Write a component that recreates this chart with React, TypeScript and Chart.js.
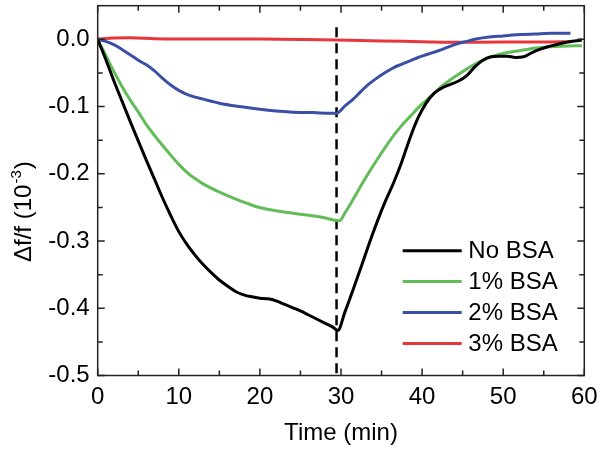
import React, { useEffect, useRef } from 'react';
import { Chart, registerables } from 'chart.js';
Chart.register(...registerables);

const seriesLabels = ['No BSA', '1% BSA', '2% BSA', '3% BSA'];
const seriesColors = ['#000000', '#62BC58', '#3B4FA6', '#E8373B'];

const noBsaTime = [0, 1, 2, 3, 4, 5, 6, 7, 8, 9, 10, 11, 12, 13, 14, 15, 16, 17, 18, 19, 20, 21, 22, 23, 24, 25, 26, 27, 28, 29, 29.6, 30.5, 31.5, 32.5, 33.5, 34.5, 35.5, 36.5, 37.5, 38.5, 39.5, 40.5, 41.5, 42.5, 43.5, 44.5, 45.5, 46.5, 47.5, 48.5, 49.5, 50.5, 51.5, 52.5, 53.5, 54.5, 55.5, 56.5, 57.5, 58.5, 59.7];
const noBsaValue = [0, -0.030, -0.062, -0.092, -0.122, -0.151, -0.180, -0.208, -0.236, -0.262, -0.286, -0.305, -0.321, -0.335, -0.347, -0.358, -0.367, -0.375, -0.380, -0.383, -0.385, -0.386, -0.389, -0.394, -0.399, -0.404, -0.410, -0.416, -0.422, -0.428, -0.433, -0.405, -0.372, -0.338, -0.303, -0.270, -0.240, -0.213, -0.182, -0.147, -0.117, -0.095, -0.080, -0.072, -0.067, -0.062, -0.054, -0.041, -0.031, -0.026, -0.025, -0.025, -0.027, -0.026, -0.020, -0.015, -0.011, -0.008, -0.005, -0.003, -0.001];

const bsa1Time = [0, 1, 2, 3, 4, 5, 6, 7, 8.5, 10, 11.4, 12, 13, 15.5, 17.5, 19.6, 21.5, 23.7, 25.5, 27.8, 29.8, 30.5, 31.5, 32.5, 33.5, 34.5, 35.5, 36.5, 37.5, 38.5, 39.5, 40.5, 41.5, 42.5, 43.5, 44.5, 45.5, 46.5, 47.5, 48.5, 50, 52, 54, 56, 58, 59.7];
const bsa1Value = [0, -0.024, -0.048, -0.070, -0.090, -0.108, -0.127, -0.143, -0.165, -0.186, -0.202, -0.207, -0.215, -0.230, -0.240, -0.249, -0.254, -0.258, -0.261, -0.265, -0.270, -0.258, -0.238, -0.217, -0.197, -0.178, -0.160, -0.143, -0.128, -0.115, -0.102, -0.091, -0.080, -0.069, -0.060, -0.052, -0.044, -0.037, -0.031, -0.026, -0.021, -0.017, -0.013, -0.011, -0.010, -0.0095];

const bsa2Time = [0, 1, 2, 3, 4, 5, 6, 7, 8, 9, 10, 11, 12, 13, 14, 15, 17.5, 20, 23.7, 26.5, 29.4, 30.5, 31.5, 32.5, 33.5, 34.5, 35.5, 36.5, 37.5, 38.5, 39.5, 40.5, 41.5, 42.5, 43.5, 44.5, 45.5, 46.5, 48, 50, 52, 54, 56, 58.3];
const bsa2Value = [0, -0.003, -0.008, -0.015, -0.023, -0.031, -0.038, -0.047, -0.058, -0.068, -0.076, -0.082, -0.086, -0.089, -0.092, -0.095, -0.100, -0.104, -0.108, -0.109, -0.110, -0.099, -0.089, -0.077, -0.066, -0.057, -0.049, -0.042, -0.037, -0.032, -0.027, -0.023, -0.019, -0.015, -0.010, -0.006, -0.003, 0.000, 0.003, 0.005, 0.007, 0.008, 0.009, 0.009];

const bsa3Time = [0, 2, 4, 7, 10, 15, 20, 25, 29.4, 35, 40, 44, 50, 55, 58.3];
const bsa3Value = [0, 0.002, 0.0025, 0.001, 0.0005, 0.0005, 0.0003, -0.0003, -0.001, -0.0025, -0.0035, -0.0045, -0.004, -0.004, -0.0035];

const markerTime = [29.45, 29.45];
const markerValue = [0.018, -0.5];

const xTickValues = [0, 10, 20, 30, 40, 50, 60];
const xMinorValues = [5, 15, 25, 35, 45, 55];
const yTickValues = [-0.5, -0.4, -0.3, -0.2, -0.1, 0.0];
const yMinorValues = [-0.45, -0.35, -0.25, -0.15, -0.05];

const xTitle = 'Time (min)';
const yTitleMain = 'Δf/f (10';
const yTitleSup = '-3';
const yTitleEnd = ')';

const FONT = '"Liberation Sans", Arial, Helvetica, sans-serif';

const toPoints = (t: number[], v: number[]) => t.map((x, i) => ({ x, y: v[i] }));

const decorPlugin = {
  id: 'decor',
  afterDraw(chart: any) {
    const { ctx, chartArea, scales } = chart;
    const { left, right, top, bottom } = chartArea;
    const xs = scales.x;
    const ys = scales.y;
    ctx.save();
    ctx.strokeStyle = '#222';
    ctx.lineWidth = 1.5;
    ctx.strokeRect(left, top, right - left, bottom - top);
    const major = 7;
    const minor = 5;
    ctx.beginPath();
    xTickValues.forEach((v) => {
      const p = xs.getPixelForValue(v);
      ctx.moveTo(p, bottom); ctx.lineTo(p, bottom - major);
      ctx.moveTo(p, top); ctx.lineTo(p, top + major);
    });
    xMinorValues.forEach((v) => {
      const p = xs.getPixelForValue(v);
      ctx.moveTo(p, bottom); ctx.lineTo(p, bottom - minor);
      ctx.moveTo(p, top); ctx.lineTo(p, top + minor);
    });
    yTickValues.forEach((v) => {
      const p = ys.getPixelForValue(v);
      ctx.moveTo(left, p); ctx.lineTo(left + major, p);
      ctx.moveTo(right, p); ctx.lineTo(right - major, p);
    });
    yMinorValues.forEach((v) => {
      const p = ys.getPixelForValue(v);
      ctx.moveTo(left, p); ctx.lineTo(left + minor, p);
      ctx.moveTo(right, p); ctx.lineTo(right - minor, p);
    });
    ctx.stroke();

    // y title with superscript
    ctx.fillStyle = '#000';
    ctx.translate(30.5, 262);
    ctx.rotate(-Math.PI / 2);
    ctx.textBaseline = 'alphabetic';
    ctx.textAlign = 'left';
    ctx.font = `24px ${FONT}`;
    ctx.fillText(yTitleMain, 0, 0);
    const w1 = ctx.measureText(yTitleMain).width;
    ctx.font = `15px ${FONT}`;
    ctx.fillText(yTitleSup, w1 + 1, -10);
    const w2 = ctx.measureText(yTitleSup).width;
    ctx.font = `24px ${FONT}`;
    ctx.fillText(yTitleEnd, w1 + w2 + 2, 0);
    ctx.restore();

    // legend
    ctx.save();
    ctx.font = `24px ${FONT}`;
    ctx.textBaseline = 'middle';
    ctx.textAlign = 'left';
    const rowStart = bottom - 124.8;
    const rowGap = 30.9;
    seriesLabels.forEach((label, i) => {
      const yy = rowStart + i * rowGap;
      ctx.strokeStyle = seriesColors[i];
      ctx.lineWidth = 3;
      ctx.beginPath();
      ctx.moveTo(right - 181.6, yy);
      ctx.lineTo(right - 122.6, yy);
      ctx.stroke();
      ctx.fillStyle = '#000';
      ctx.fillText(label, right - 116, yy + 1);
    });
    ctx.restore();
  },
};

export default function App() {
  const ref = useRef<HTMLCanvasElement | null>(null);
  useEffect(() => {
    if (!ref.current) return;
    const tickFont = { family: FONT, size: 24 };
    const seriesData = [
      toPoints(noBsaTime, noBsaValue),
      toPoints(bsa1Time, bsa1Value),
      toPoints(bsa2Time, bsa2Value),
      toPoints(bsa3Time, bsa3Value),
    ];
    const chart = new Chart(ref.current, {
      type: 'line',
      data: {
        datasets: [
          ...seriesData.map((d, i) => ({
            label: seriesLabels[i],
            data: d,
            borderColor: seriesColors[i],
            backgroundColor: seriesColors[i],
            borderWidth: 3,
            pointRadius: 0,
            cubicInterpolationMode: 'monotone' as const,
            fill: false,
          })),
          {
            label: 'marker',
            data: toPoints(markerTime, markerValue),
            borderColor: '#000',
            borderWidth: 2.5,
            borderDash: [10, 6],
            pointRadius: 0,
            fill: false,
          },
        ],
      },
      options: {
        responsive: false,
        animation: false,
        devicePixelRatio: 1,
        layout: { padding: { top: 5.7, right: 16.7, left: 0, bottom: 0 } },
        plugins: { legend: { display: false }, tooltip: { enabled: false } },
        scales: {
          x: {
            type: 'linear',
            min: 0,
            max: 60,
            grid: { display: false, drawTicks: false },
            border: { display: false },
            afterBuildTicks: (s: any) => { s.ticks = xTickValues.map((v) => ({ value: v })); },
            afterFit: (s: any) => { s.height = 77.5; s.paddingLeft = 0; s.paddingRight = 0; },
            ticks: { font: tickFont, color: '#000', padding: 7, maxRotation: 0, autoSkip: false, callback: (v: any) => String(v) },
            title: { display: true, text: xTitle, font: tickFont, color: '#000', padding: { top: 0, bottom: 5 } },
          },
          y: {
            type: 'linear',
            min: -0.5,
            max: 0.05,
            grid: { display: false, drawTicks: false },
            border: { display: false },
            afterBuildTicks: (s: any) => { s.ticks = yTickValues.map((v) => ({ value: v })); },
            afterFit: (s: any) => { s.width = 97.7; s.paddingTop = 0; s.paddingBottom = 0; },
            ticks: { font: tickFont, color: '#000', padding: 8, autoSkip: false, callback: (v: any) => Number(v).toFixed(1) },
            title: { display: false },
          },
        },
      },
      plugins: [decorPlugin],
    });
    return () => chart.destroy();
  }, []);
  return (
    <div style={{ position: 'absolute', left: 0, top: 0, width: 601, height: 453, background: '#fff' }}>
      <canvas ref={ref} width={601} height={453} style={{ display: 'block' }} />
    </div>
  );
}
